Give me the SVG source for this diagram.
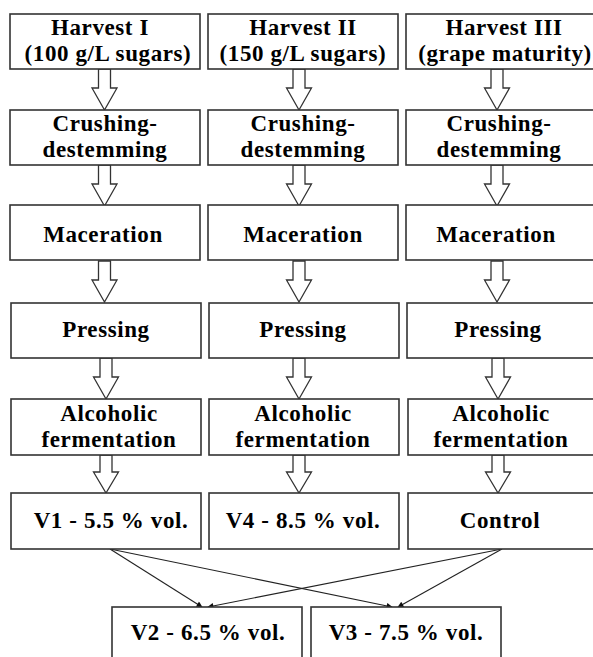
<svg xmlns="http://www.w3.org/2000/svg" width="593" height="657" viewBox="0 0 593 657">
<style>
.box{fill:#fff;stroke:#333;stroke-width:1.6}
.t{font-family:"Liberation Serif","Times New Roman",serif;font-weight:bold;font-size:23px;letter-spacing:0.6px;fill:#000;text-anchor:middle}
.ar{fill:#fff;stroke:#333;stroke-width:1.3;stroke-linejoin:miter}
.ln{stroke:#222;stroke-width:1.1;fill:none;marker-end:url(#ah)}
</style>
<defs>
<marker id="ah" viewBox="0 0 10 10" refX="9" refY="5" markerWidth="7" markerHeight="6" orient="auto" markerUnits="userSpaceOnUse">
<path d="M0,0 L10,5 L0,10 z" fill="#111"/>
</marker>
<path id="blk" class="ar" d="M-6,0 L6,0 L6,19 L12.5,19 L0,41 L-12.5,19 L-6,19 Z"/>
<path id="blk2" class="ar" d="M-6,0 L6,0 L6,17 L12.5,17 L0,38 L-12.5,17 L-6,17 Z"/>
</defs>
<rect width="593" height="657" fill="#fff"/>
<g id="connectors">
<use href="#blk" x="104.5" y="69"/><use href="#blk" x="299" y="69"/><use href="#blk" x="497" y="69"/>
<use href="#blk" x="104.5" y="165"/><use href="#blk" x="299" y="165"/><use href="#blk" x="497" y="165"/>
<use href="#blk" x="104.5" y="261"/><use href="#blk" x="299" y="261"/><use href="#blk" x="497" y="261"/>
<use href="#blk" x="106" y="358"/><use href="#blk" x="299" y="358"/><use href="#blk" x="498" y="358"/>
<use href="#blk2" x="106" y="455"/><use href="#blk2" x="299" y="455"/><use href="#blk2" x="498" y="455"/>
<line class="ln" x1="110" y1="549" x2="202" y2="607"/>
<line class="ln" x1="110" y1="549" x2="392" y2="607"/>
<line class="ln" x1="502" y1="549" x2="208" y2="607"/>
<line class="ln" x1="502" y1="549" x2="398" y2="607"/>
</g>
<g id="h1"><rect class="box" x="10" y="14" width="190" height="55"/><text class="t" x="100" y="35">Harvest I</text><text class="t" x="108" y="61">(100 g/L sugars)</text></g>
<g id="h2"><rect class="box" x="208" y="14" width="190" height="55"/><text class="t" x="303" y="35">Harvest II</text><text class="t" x="303" y="61">(150 g/L sugars)</text></g>
<g id="h3"><rect class="box" x="406" y="14" width="195" height="55"/><text class="t" x="504" y="35">Harvest III</text><text class="t" x="505" y="61">(grape maturity)</text></g>
<g id="c1"><rect class="box" x="10" y="110" width="190" height="55"/><text class="t" x="105" y="131">Crushing-</text><text class="t" x="105" y="157">destemming</text></g>
<g id="c2"><rect class="box" x="208" y="110" width="190" height="55"/><text class="t" x="303" y="131">Crushing-</text><text class="t" x="303" y="157">destemming</text></g>
<g id="c3"><rect class="box" x="406" y="110" width="195" height="55"/><text class="t" x="499" y="131">Crushing-</text><text class="t" x="499" y="157">destemming</text></g>
<g id="m1"><rect class="box" x="10" y="205" width="190" height="55"/><text class="t" x="103" y="242">Maceration</text></g>
<g id="m2"><rect class="box" x="208" y="205" width="190" height="55"/><text class="t" x="303" y="242">Maceration</text></g>
<g id="m3"><rect class="box" x="406" y="205" width="195" height="55"/><text class="t" x="496" y="242">Maceration</text></g>
<g id="p1"><rect class="box" x="11" y="303" width="190" height="55"/><text class="t" x="106" y="337">Pressing</text></g>
<g id="p2"><rect class="box" x="209" y="303" width="190" height="55"/><text class="t" x="303" y="337">Pressing</text></g>
<g id="p3"><rect class="box" x="407" y="303" width="195" height="55"/><text class="t" x="498" y="337">Pressing</text></g>
<g id="a1"><rect class="box" x="11" y="399" width="190" height="56"/><text class="t" x="109" y="421">Alcoholic</text><text class="t" x="109" y="447">fermentation</text></g>
<g id="a2"><rect class="box" x="209" y="399" width="190" height="56"/><text class="t" x="303" y="421">Alcoholic</text><text class="t" x="303" y="447">fermentation</text></g>
<g id="a3"><rect class="box" x="408" y="399" width="195" height="56"/><text class="t" x="501" y="421">Alcoholic</text><text class="t" x="501" y="447">fermentation</text></g>
<g id="v1"><rect class="box" x="11" y="493" width="190" height="56"/><text class="t" x="111" y="528">V1 - 5.5 % vol.</text></g>
<g id="v4"><rect class="box" x="209" y="493" width="190" height="56"/><text class="t" x="303" y="528">V4 - 8.5 % vol.</text></g>
<g id="ctl"><rect class="box" x="408" y="493" width="195" height="56"/><text class="t" x="500" y="528">Control</text></g>
<g id="v2"><rect class="box" x="112" y="607" width="190" height="60"/><text class="t" x="208" y="640">V2 - 6.5 % vol.</text></g>
<g id="v3"><rect class="box" x="311" y="607" width="190" height="60"/><text class="t" x="406" y="640">V3 - 7.5 % vol.</text></g>
</svg>
